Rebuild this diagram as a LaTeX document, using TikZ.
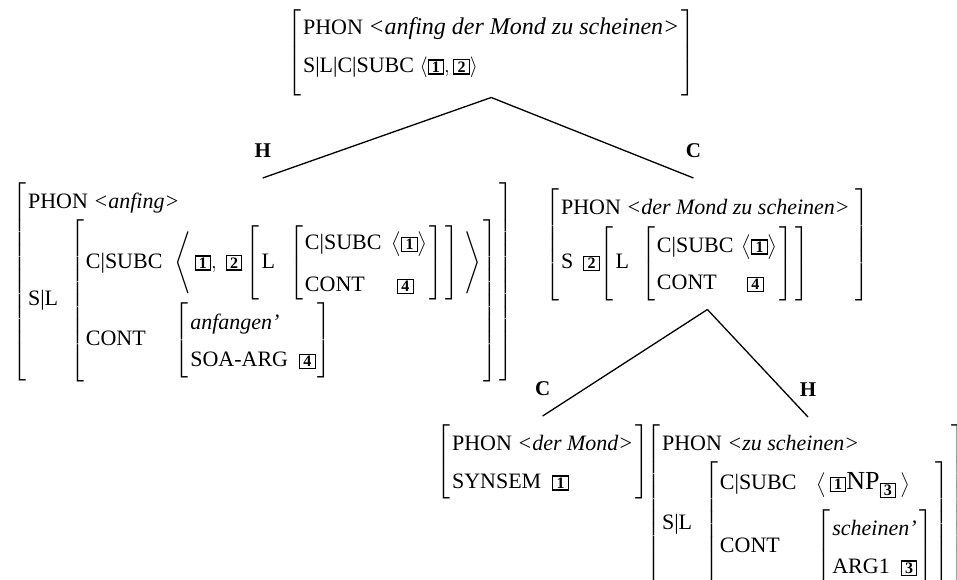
\documentclass[tikz,border=0pt]{standalone}
\usepackage{amsmath}
\usepackage{fontspec}
\setmainfont{Liberation Serif}
\usetikzlibrary{positioning}

% boxed tags and attribute-value matrices
\newcommand{\tg}[1]{{\setlength{\fboxsep}{1.2pt}\setlength{\fboxrule}{1.1pt}\fbox{\fontsize{16}{16}\selectfont\makebox[12pt]{\textbf{#1}}}}}
\newcommand{\avm}[2][l]{\ensuremath{\left[\begin{tabular}{@{\hspace{2pt}}#1@{\hspace{2pt}}}#2\end{tabular}\right]}}
\newcommand{\phn}[1]{PHON \textit{<#1>}}
\newcommand{\full}[1]{\multicolumn{2}{@{\hspace{2pt}}l}{#1}}
\renewcommand{\arraystretch}{1.45}

\tikzset{
  avm/.style={inner sep=0pt, anchor=north west, font=\fontsize{22}{26}\selectfont},
  lbl/.style={inner sep=0pt, font=\fontsize{21}{21}\selectfont\bfseries},
  edge/.style={line width=1.3pt},
}

\begin{document}
\begin{tikzpicture}[x=1pt, y=-1pt]
    \useasboundingbox (0,0) rectangle (957,580);
    \clip (0,0) rectangle (957,580);

    % mother
    \node[avm] (top) at (287,8) {\avm{PHON \textit{\fontsize{24}{26}\selectfont <anfing der Mond zu scheinen>} \\
        S|L|C|SUBC $\langle\tg{1},\tg{2}\rangle$\rule[-25pt]{0pt}{0pt}}};

    % head daughter
    \node[avm] (hd) at (12,182) {\avm[l@{\hspace{12pt}}l]{\full{\phn{anfing}} \\
        S|L & \avm[l@{\hspace{12pt}}l]{C|SUBC & $\left\langle\, \tg{1},\ \tg{2}\avm[l@{\hspace{14pt}}l]{L & \avm[l@{\hspace{10pt}}l]{C|SUBC & $\big\langle\tg{1}\big\rangle$ \\[4pt] CONT & \ \tg{4}}}\ \right\rangle$ \\[15pt]
            CONT & \avm{\textit{anfangen'} \\ SOA-ARG \ \tg{4}}}}};

    % complement daughter
    \node[avm] (cd) at (545,188) {\avm[l@{\hspace{10pt}}l]{\full{\phn{der Mond zu scheinen}} \\
        S & \tg{2}\avm[l@{\hspace{12pt}}l]{L & \avm[l@{\hspace{8pt}}l]{C|SUBC & $\big\langle\tg{1}\big\rangle$ \\ CONT & \ \tg{4}}}}};

    \node[avm] (cm) at (436,424) {\avm{\phn{der Mond} \\ SYNSEM \ \tg{1}}};

    \node[avm] (hz) at (646,424) {\avm[l@{\hspace{12pt}}l]{\full{\phn{zu scheinen}} \\
        S|L & \avm[l@{\hspace{20pt}}l]{C|SUBC & $\left\langle\,\tg{1}\text{\fontsize{26}{26}\selectfont NP}_{\tg{3}}\,\right\rangle$ \\[8pt]
            CONT & \avm{\textit{scheinen'} \\ ARG1 \ \tg{3}}}}};

    % branches
    \draw[edge] (top.south) -- ([yshift=4pt]hd.north) node[lbl, above=20pt] {H};
    \draw[edge] (top.south) -- ([xshift=-14pt, yshift=10pt]cd.north) node[lbl, above=20pt] {C};
    \draw[edge] ([yshift=-8pt]cd.south) -- ([yshift=8pt]cm.north) node[lbl, above=20pt] {C};
    \draw[edge] ([yshift=-8pt]cd.south) -- ([xshift=162pt, yshift=7pt]hz.north west) node[lbl, above=20pt] {H};
\end{tikzpicture}
\end{document}
